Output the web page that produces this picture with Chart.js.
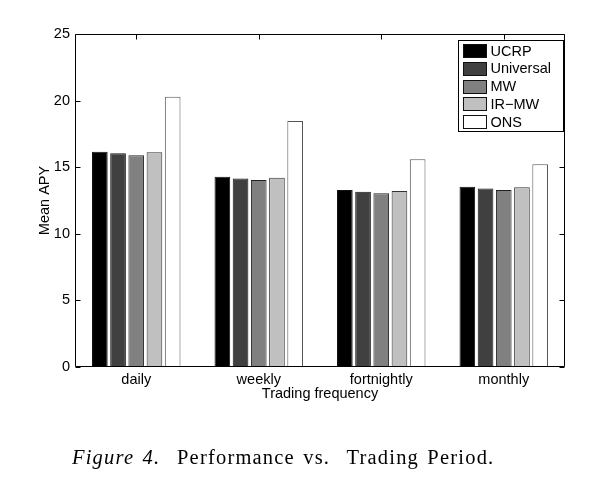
<!DOCTYPE html>
<html>
<head>
<meta charset="utf-8">
<script src="https://cdn.jsdelivr.net/npm/chart.js@4/dist/chart.umd.min.js"></script>
<style>
  html, body { margin: 0; padding: 0; background: #fff; }
  #wrap { position: relative; width: 610px; height: 477px; }
  #wrap canvas { position: absolute; left: 0; top: 0; }
  #caption {
    position: absolute; left: 72px; top: 446px;
    font-family: "Liberation Serif", "DejaVu Serif", serif;
    font-size: 20.5px; color: #000; white-space: pre; letter-spacing: 1.2px; word-spacing: 2px;
    line-height: 22px;
  }
  #caption i { font-style: italic; }
</style>
</head>
<body>
<div id="wrap">
  <canvas id="c" width="610" height="477"></canvas>
  <div id="caption"><i>Figure 4.</i>  Performance vs.  Trading Period.</div>
</div>
<script>
// ---- data ----
const categories = ["daily", "weekly", "fortnightly", "monthly"];
const seriesNames = ["UCRP", "Universal", "MW", "IR\u2212MW", "ONS"];
const ucrp      = [16.16, 14.29, 13.29, 13.54];
const universal = [16.04, 14.16, 13.16, 13.41];
const mw        = [15.89, 14.04, 13.04, 13.29];
const irmw      = [16.12, 14.21, 13.21, 13.49];
const ons       = [20.29, 18.47, 15.59, 15.22];
const yTicks    = [0, 5, 10, 15, 20, 25];

const fills   = ["#000000", "#404040", "#808080", "#c0c0c0", "#ffffff"];
const borders = ["#111111", "#111111", "#222222", "#333333", "#555555"];
const values  = [ucrp, universal, mw, irmw, ons];

const FONT = "'Liberation Sans', Arial, sans-serif";

const framePlugin = {
  id: 'frame',
  beforeDatasetsDraw(chart) {
    const { ctx, chartArea: a, scales: { x } } = chart;
    ctx.save();
    ctx.strokeStyle = '#000'; ctx.lineWidth = 1;
    ctx.beginPath();
    categories.forEach((c, i) => {
      const px = Math.round(x.getPixelForValue(i)) + 0.5;
      ctx.moveTo(px, a.bottom); ctx.lineTo(px, a.bottom - 5);
    });
    ctx.stroke();
    ctx.restore();
  },
  afterDatasetsDraw(chart) {
    const { ctx, chartArea: a, scales: { x, y } } = chart;
    ctx.save();
    ctx.strokeStyle = '#000'; ctx.lineWidth = 1;
    ctx.beginPath();
    const L = Math.round(a.left) + 0.5, R = Math.round(a.right) - 0.5;
    const T = Math.round(a.top) + 0.5, B = Math.round(a.bottom) - 0.5;
    ctx.rect(L, T, R - L, B - T);
    yTicks.forEach(v => {
      const py = Math.round(y.getPixelForValue(v)) + 0.5;
      ctx.moveTo(L, py); ctx.lineTo(L + 5, py);
      ctx.moveTo(R, py); ctx.lineTo(R - 5, py);
    });
    categories.forEach((c, i) => {
      const px = Math.round(x.getPixelForValue(i)) + 0.5;
      ctx.moveTo(px, T); ctx.lineTo(px, T + 5);
    });
    ctx.stroke();

    // legend box inside the plot (top right)
    const bx = 458.5, by = 40.5, bw = 105, bh = 91;
    ctx.fillStyle = '#fff';
    ctx.fillRect(bx, by, bw, bh);
    ctx.strokeRect(bx, by, bw, bh);
    ctx.font = "14.5px " + FONT;
    ctx.textBaseline = 'middle';
    ctx.textAlign = 'left';
    chart.data.datasets.forEach((ds, i) => {
      const cy = 50.5 + i * 17.75;
      ctx.fillStyle = ds.backgroundColor;
      ctx.fillRect(463.5, Math.round(cy - 6.5) + 0.5, 23, 13);
      ctx.strokeStyle = '#111';
      ctx.strokeRect(463.5, Math.round(cy - 6.5) + 0.5, 23, 13);
      ctx.fillStyle = '#000';
      ctx.fillText(ds.label, 490.5, cy + 1);
    });
    ctx.restore();
  }
};

new Chart(document.getElementById('c'), {
  type: 'bar',
  data: {
    labels: categories,
    datasets: seriesNames.map((n, i) => ({
      label: n,
      data: values[i],
      backgroundColor: fills[i],
      borderColor: borders[i],
      borderWidth: 1,
      borderSkipped: false,
      categoryPercentage: 0.743,
      barPercentage: 0.86
    }))
  },
  options: {
    responsive: false,
    animation: false,
    devicePixelRatio: 1,
    layout: { padding: { left: 0, top: 34, right: 45, bottom: 74 } },
    plugins: { legend: { display: false }, tooltip: { enabled: false } },
    scales: {
      x: {
        grid: { display: false, drawTicks: false },
        border: { display: false },
        ticks: { color: '#000', font: { family: FONT, size: 14.5 }, padding: 4, maxRotation: 0 },
        title: { display: true, text: 'Trading frequency', color: '#000',
                 font: { family: FONT, size: 14.5 }, padding: { top: 0, bottom: 0 } },
        afterFit(s) { s.height = 36; }
      },
      y: {
        min: 0, max: 25,
        afterBuildTicks(s) { s.ticks = yTicks.map(v => ({ value: v })); },
        grid: { display: false, drawTicks: false },
        border: { display: false },
        ticks: { color: '#000', font: { family: FONT, size: 14.5 }, padding: 5 },
        title: { display: true, text: 'Mean APY', color: '#000',
                 font: { family: FONT, size: 14.5 }, padding: { top: 36, bottom: 0 } },
        afterFit(s) { s.width = 75; }
      }
    }
  },
  plugins: [framePlugin]
});
</script>
</body>
</html>
